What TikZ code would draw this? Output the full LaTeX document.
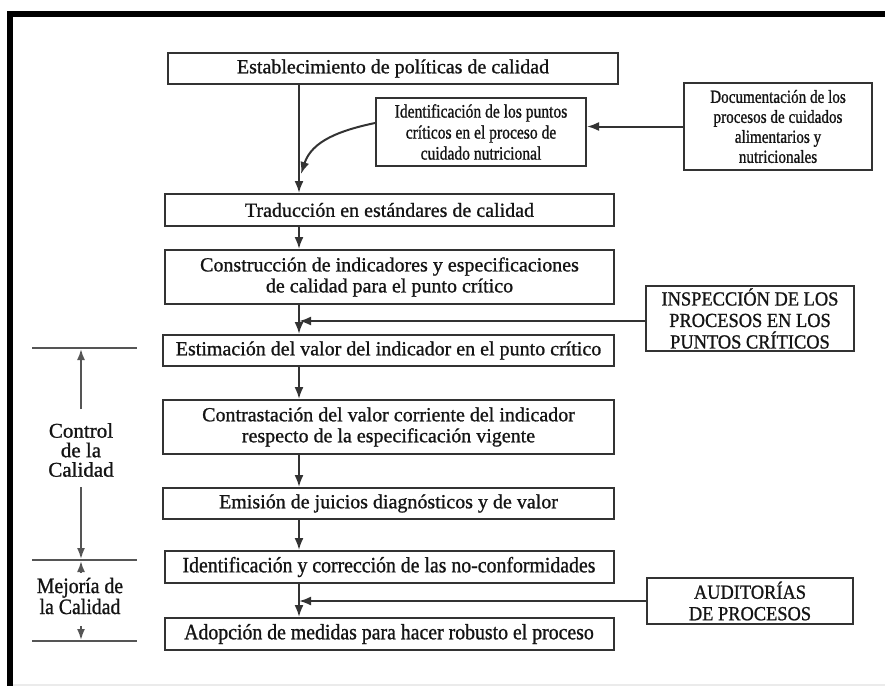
\documentclass[tikz,border=0pt]{standalone}
\usepackage{fontspec}
\setmainfont{Liberation Serif}[FakeBold=1.0]
\newfontfamily\condensed[FakeStretch=0.82,FakeBold=1.0]{Liberation Serif}
\newfontfamily\capsfont[FakeStretch=0.92,FakeBold=1.0]{Liberation Serif}
\newfontfamily\semicondensed[FakeStretch=0.9,FakeBold=1.0]{Liberation Serif}
\usetikzlibrary{arrows.meta}

\definecolor{boxgray}{HTML}{333333}
\definecolor{rulegray}{HTML}{555555}
\definecolor{inkblack}{HTML}{141414}

\begin{document}
\begin{tikzpicture}[x=1pt,y=-1pt,
  box/.style={draw=boxgray, line width=2pt, inner sep=0pt, align=center,
    text=inkblack, font=\fontsize{20}{21}\selectfont},
  narrowbox/.style={box, font=\condensed\fontsize{19}{21}\selectfont},
  capsbox/.style={box, font=\capsfont\fontsize{20}{21.5}\selectfont},
  lowbox/.style={box, font=\semicondensed\fontsize{22}{21}\selectfont},
  flow/.style={draw=boxgray, line width=2pt, -{Latex[length=12pt,width=9pt]}},
  sideline/.style={draw=rulegray, line width=2pt},
  sidearrow/.style={draw=rulegray, line width=1.8pt, -{Latex[length=11pt,width=8pt]}},
  sidelabel/.style={align=center, text=inkblack, inner sep=0pt}
]
\useasboundingbox (0,0) rectangle (885,686);

% frame
\fill[black] (7,11) rectangle (885,17);
\fill[black] (7,11) rectangle (13,686);
\draw[black!8, line width=2pt] (13,685) -- (885,685);

% main column
\node[box, minimum width=450pt, minimum height=31pt] (b1) at (393,68.5)
  {Establecimiento de políticas de calidad};
\node[box, minimum width=449pt, minimum height=32pt] (b2) at (389.5,210)
  {Traducción en estándares de calidad};
\node[box, minimum width=449pt, minimum height=54pt] (b3) at (389.5,277)
  {Construcción de indicadores y especificaciones\\de calidad para el punto crítico};
\node[box, minimum width=451pt, minimum height=31pt] (b4) at (388.5,350.5)
  {Estimación del valor del indicador en el punto crítico};
\node[box, minimum width=451pt, minimum height=54pt] (b5) at (388.5,427)
  {Contrastación del valor corriente del indicador\\respecto de la especificación vigente};
\node[box, minimum width=451pt, minimum height=31pt] (b6) at (388.5,503.5)
  {Emisión de juicios diagnósticos y de valor};
\node[lowbox, minimum width=449pt, minimum height=32pt] (b7) at (389,567)
  {Identificación y corrección de las no-conformidades};
\node[lowbox, minimum width=449pt, minimum height=32pt] (b8) at (389,634)
  {Adopción de medidas para hacer robusto el proceso};

% side inputs
\node[narrowbox, minimum width=210pt, minimum height=68pt] (ident) at (481,132)
  {Identificación de los puntos\\críticos en el proceso de\\cuidado nutricional};
\node[narrowbox, font=\condensed\fontsize{18.5}{20}\selectfont,
  minimum width=188pt, minimum height=87pt] (doc) at (778,126.5)
  {Documentación de los\\procesos de cuidados\\alimentarios y\\nutricionales};
\node[capsbox, minimum width=208pt, minimum height=65pt] (insp) at (750,318.5)
  {INSPECCIÓN DE LOS\\PROCESOS EN LOS\\PUNTOS CRÍTICOS};
\node[capsbox, minimum width=206pt, minimum height=46pt] (aud) at (750,601)
  {AUDITORÍAS\\DE PROCESOS};

% spine of the flow
\coordinate (spine) at (299,0);
\coordinate (join) at (301,174);
\coordinate (inspin) at (299,321);

\draw[flow] (b1.south -| spine) -- (b2.north -| spine);
\draw[flow] ([yshift=9pt]ident.west) to[out=192,in=72] (join);
\draw[flow] (doc.west) -- (doc.west -| ident.east);
\draw[flow] (b2.south -| spine) -- (b3.north -| spine);
\draw[flow] (b3.south -| spine) -- (b4.north -| spine);
\draw[flow] (insp.west |- inspin) -- (inspin);
\draw[flow] (b4.south -| spine) -- (b5.north -| spine);
\draw[flow] (b5.south -| spine) -- (b6.north -| spine);
\draw[flow] (b6.south -| spine) -- (b7.north -| spine);
\draw[flow] (b7.south -| spine) -- (b8.north -| spine);
\draw[flow] (aud.west) -- (aud.west -| spine);

% quality phases on the left
\coordinate (r1l) at (32,348);  \coordinate (r1r) at (137,348);
\coordinate (r2l) at (32,560);  \coordinate (r2r) at (137,560);
\coordinate (r3l) at (32,641);  \coordinate (r3r) at (137,641);
\draw[sideline] (r1l) -- (r1r);
\draw[sideline] (r2l) -- (r2r);
\draw[sideline] (r3l) -- (r3r);

\node[sidelabel, font=\fontsize{21}{19.5}\selectfont] (ctl) at (81,450)
  {Control\\de la\\Calidad};
\coordinate (ctlup) at (81,349);
\coordinate (ctldn) at (81,559);
\draw[sidearrow] (81,409) -- (ctlup);
\draw[sidearrow] (81,487) -- (ctldn);

\node[sidelabel, font=\semicondensed\fontsize{22}{19.5}\selectfont] (mej) at (80,596)
  {Mejoría de\\la Calidad};
\coordinate (mejup) at (81,561);
\coordinate (mejdn) at (81,640);
\draw[sidearrow] (81,573) -- (mejup);
\draw[sidearrow] (81,626) -- (mejdn);
\end{tikzpicture}
\end{document}
